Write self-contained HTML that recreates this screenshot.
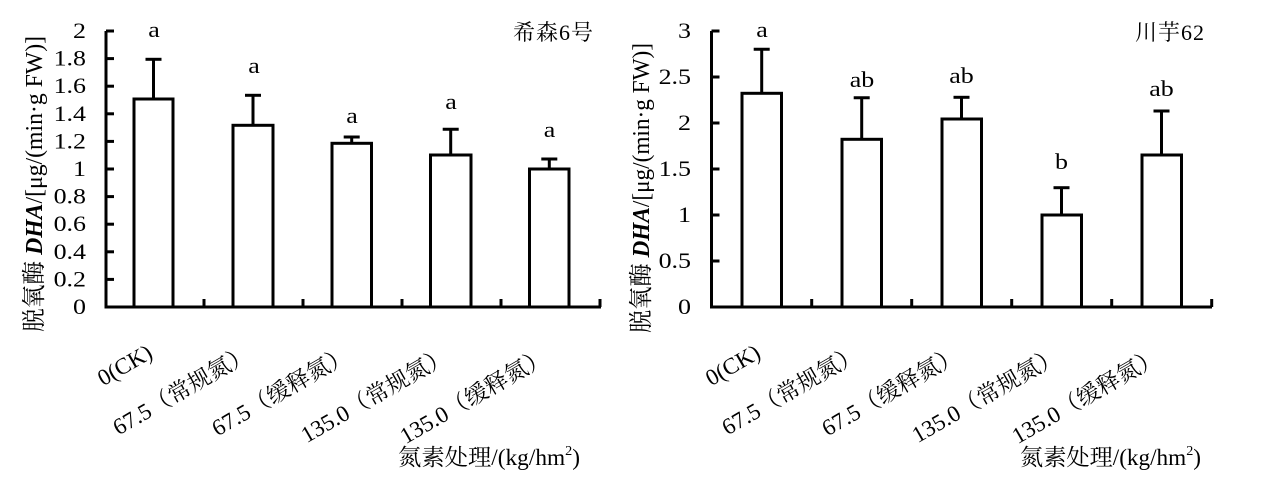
<!DOCTYPE html>
<html>
<head>
<meta charset="utf-8">
<style>
html,body{margin:0;padding:0;background:#fff;}
svg{display:block;}
text{font-family:"Liberation Serif","Noto Serif CJK SC",serif;fill:#000;}
.cjk{font-family:"Liberation Serif","Noto Serif CJK SC",serif;}
</style>
</head>
<body>
<svg width="1267" height="483" viewBox="0 0 1267 483" xmlns="http://www.w3.org/2000/svg">
<rect width="1267" height="483" fill="#fff"/>

<!-- ================= LEFT CHART ================= -->
<g stroke="#000" stroke-width="3" fill="none">
  <!-- axes -->
  <polyline points="106,31 106,307 601,307"/>
  <!-- y ticks -->
  <line x1="106" y1="31" x2="114" y2="31"/>
  <line x1="106" y1="58.6" x2="114" y2="58.6"/>
  <line x1="106" y1="86.2" x2="114" y2="86.2"/>
  <line x1="106" y1="113.8" x2="114" y2="113.8"/>
  <line x1="106" y1="141.4" x2="114" y2="141.4"/>
  <line x1="106" y1="169" x2="114" y2="169"/>
  <line x1="106" y1="196.6" x2="114" y2="196.6"/>
  <line x1="106" y1="224.2" x2="114" y2="224.2"/>
  <line x1="106" y1="251.8" x2="114" y2="251.8"/>
  <line x1="106" y1="279.4" x2="114" y2="279.4"/>
  <!-- x ticks -->
  <line x1="204" y1="307" x2="204" y2="299"/>
  <line x1="303" y1="307" x2="303" y2="299"/>
  <line x1="402" y1="307" x2="402" y2="299"/>
  <line x1="501" y1="307" x2="501" y2="299"/>
  <line x1="600" y1="307" x2="600" y2="299"/>
  <!-- bars -->
  <rect x="134" y="99" width="39" height="208" fill="#fff"/>
  <rect x="233" y="125.3" width="40" height="181.7" fill="#fff"/>
  <rect x="332" y="143.3" width="39.5" height="163.7" fill="#fff"/>
  <rect x="430.5" y="155" width="40.5" height="152" fill="#fff"/>
  <rect x="529.5" y="169" width="39.5" height="138" fill="#fff"/>
  <!-- error bars -->
  <line x1="153.5" y1="99" x2="153.5" y2="59.3"/><line x1="145.5" y1="59.3" x2="161.5" y2="59.3"/>
  <line x1="253" y1="125.3" x2="253" y2="95.3"/><line x1="245" y1="95.3" x2="261" y2="95.3"/>
  <line x1="351.7" y1="143.3" x2="351.7" y2="137"/><line x1="343.7" y1="137" x2="359.7" y2="137"/>
  <line x1="450.7" y1="155" x2="450.7" y2="129.3"/><line x1="442.7" y1="129.3" x2="458.7" y2="129.3"/>
  <line x1="549.3" y1="169" x2="549.3" y2="159"/><line x1="541.3" y1="159" x2="557.3" y2="159"/>
</g>
<!-- y tick labels -->
<g font-size="22" text-anchor="end">
  <text transform="translate(86,38) scale(1.18,1)">2</text>
  <text transform="translate(86,65.6) scale(1.18,1)">1.8</text>
  <text transform="translate(86,93.2) scale(1.18,1)">1.6</text>
  <text transform="translate(86,120.8) scale(1.18,1)">1.4</text>
  <text transform="translate(86,148.4) scale(1.18,1)">1.2</text>
  <text transform="translate(86,176) scale(1.18,1)">1</text>
  <text transform="translate(86,203.6) scale(1.18,1)">0.8</text>
  <text transform="translate(86,231.2) scale(1.18,1)">0.6</text>
  <text transform="translate(86,258.8) scale(1.18,1)">0.4</text>
  <text transform="translate(86,286.4) scale(1.18,1)">0.2</text>
  <text transform="translate(86,314) scale(1.18,1)">0</text>
</g>
<!-- significance letters -->
<g font-size="22" text-anchor="middle">
  <text transform="translate(154,37) scale(1.18,1)">a</text>
  <text transform="translate(254,73) scale(1.18,1)">a</text>
  <text transform="translate(352,123) scale(1.18,1)">a</text>
  <text transform="translate(451,109) scale(1.18,1)">a</text>
  <text transform="translate(549.5,137) scale(1.18,1)">a</text>
</g>
<!-- title -->
<text x="593" y="40" font-size="22" text-anchor="end" textLength="80" fill="#222">希森6号</text>
<!-- y axis title -->
<text transform="translate(42,332) rotate(-90)" font-size="24" textLength="296" lengthAdjust="spacingAndGlyphs">脱氧酶 <tspan font-weight="bold" font-style="italic">DHA</tspan>/[μg/(min·g FW)]</text>
<!-- x labels -->
<g font-size="23" text-anchor="end">
  <text transform="translate(154,357) rotate(-30)">0(CK)</text>
  <text transform="translate(253,358) rotate(-30)">67.5（常规氮）</text>
  <text transform="translate(352,359) rotate(-30)">67.5（缓释氮）</text>
  <text transform="translate(451,360) rotate(-30)">135.0（常规氮）</text>
  <text transform="translate(550,361) rotate(-30)">135.0（缓释氮）</text>
</g>
<!-- x axis title -->
<text x="398" y="465" font-size="23" textLength="182" lengthAdjust="spacingAndGlyphs" fill="#222">氮素处理/(kg/hm<tspan font-size="14" dy="-10">2</tspan><tspan dy="10">)</tspan></text>

<!-- ================= RIGHT CHART ================= -->
<g stroke="#000" stroke-width="3" fill="none">
  <polyline points="711.5,31 711.5,307 1212,307"/>
  <line x1="711.5" y1="31" x2="719.5" y2="31"/>
  <line x1="711.5" y1="77" x2="719.5" y2="77"/>
  <line x1="711.5" y1="123" x2="719.5" y2="123"/>
  <line x1="711.5" y1="169" x2="719.5" y2="169"/>
  <line x1="711.5" y1="215" x2="719.5" y2="215"/>
  <line x1="711.5" y1="261" x2="719.5" y2="261"/>
  <line x1="811.7" y1="307" x2="811.7" y2="299"/>
  <line x1="911.7" y1="307" x2="911.7" y2="299"/>
  <line x1="1011.7" y1="307" x2="1011.7" y2="299"/>
  <line x1="1111.7" y1="307" x2="1111.7" y2="299"/>
  <line x1="1211.7" y1="307" x2="1211.7" y2="299"/>
  <rect x="742" y="93.3" width="39.5" height="213.7" fill="#fff"/>
  <rect x="842" y="139.3" width="39.5" height="167.7" fill="#fff"/>
  <rect x="942" y="119" width="39.5" height="188" fill="#fff"/>
  <rect x="1042" y="215" width="39.5" height="92" fill="#fff"/>
  <rect x="1142" y="155" width="39.5" height="152" fill="#fff"/>
  <line x1="761.7" y1="93.3" x2="761.7" y2="49.3"/><line x1="753.7" y1="49.3" x2="769.7" y2="49.3"/>
  <line x1="861.7" y1="139.3" x2="861.7" y2="97.7"/><line x1="853.7" y1="97.7" x2="869.7" y2="97.7"/>
  <line x1="961.5" y1="119" x2="961.5" y2="97.3"/><line x1="953.5" y1="97.3" x2="969.5" y2="97.3"/>
  <line x1="1061.5" y1="215" x2="1061.5" y2="187.7"/><line x1="1053.5" y1="187.7" x2="1069.5" y2="187.7"/>
  <line x1="1161.5" y1="155" x2="1161.5" y2="111"/><line x1="1153.5" y1="111" x2="1169.5" y2="111"/>
</g>
<g font-size="22" text-anchor="end">
  <text transform="translate(691,38) scale(1.18,1)">3</text>
  <text transform="translate(691,84) scale(1.18,1)">2.5</text>
  <text transform="translate(691,130) scale(1.18,1)">2</text>
  <text transform="translate(691,176) scale(1.18,1)">1.5</text>
  <text transform="translate(691,222) scale(1.18,1)">1</text>
  <text transform="translate(691,268) scale(1.18,1)">0.5</text>
  <text transform="translate(691,314) scale(1.18,1)">0</text>
</g>
<g font-size="22" text-anchor="middle">
  <text transform="translate(762,37) scale(1.18,1)">a</text>
  <text transform="translate(862,87) scale(1.18,1)">ab</text>
  <text transform="translate(961.5,83) scale(1.18,1)">ab</text>
  <text transform="translate(1061.5,169) scale(1.18,1)">b</text>
  <text transform="translate(1161.5,96) scale(1.18,1)">ab</text>
</g>
<text x="1204" y="40" font-size="22" text-anchor="end" textLength="69" fill="#222">川芋62</text>
<text transform="translate(649,333) rotate(-90)" font-size="24" textLength="290" lengthAdjust="spacingAndGlyphs">脱氧酶 <tspan font-weight="bold" font-style="italic">DHA</tspan>/[μg/(min·g FW)]</text>
<g font-size="23" text-anchor="end">
  <text transform="translate(762,357) rotate(-30)">0(CK)</text>
  <text transform="translate(862,358) rotate(-30)">67.5（常规氮）</text>
  <text transform="translate(962,359) rotate(-30)">67.5（缓释氮）</text>
  <text transform="translate(1062,360) rotate(-30)">135.0（常规氮）</text>
  <text transform="translate(1162,361) rotate(-30)">135.0（缓释氮）</text>
</g>
<text x="1020" y="465" font-size="23" textLength="181" lengthAdjust="spacingAndGlyphs" fill="#222">氮素处理/(kg/hm<tspan font-size="14" dy="-10">2</tspan><tspan dy="10">)</tspan></text>
</svg>
</body>
</html>
